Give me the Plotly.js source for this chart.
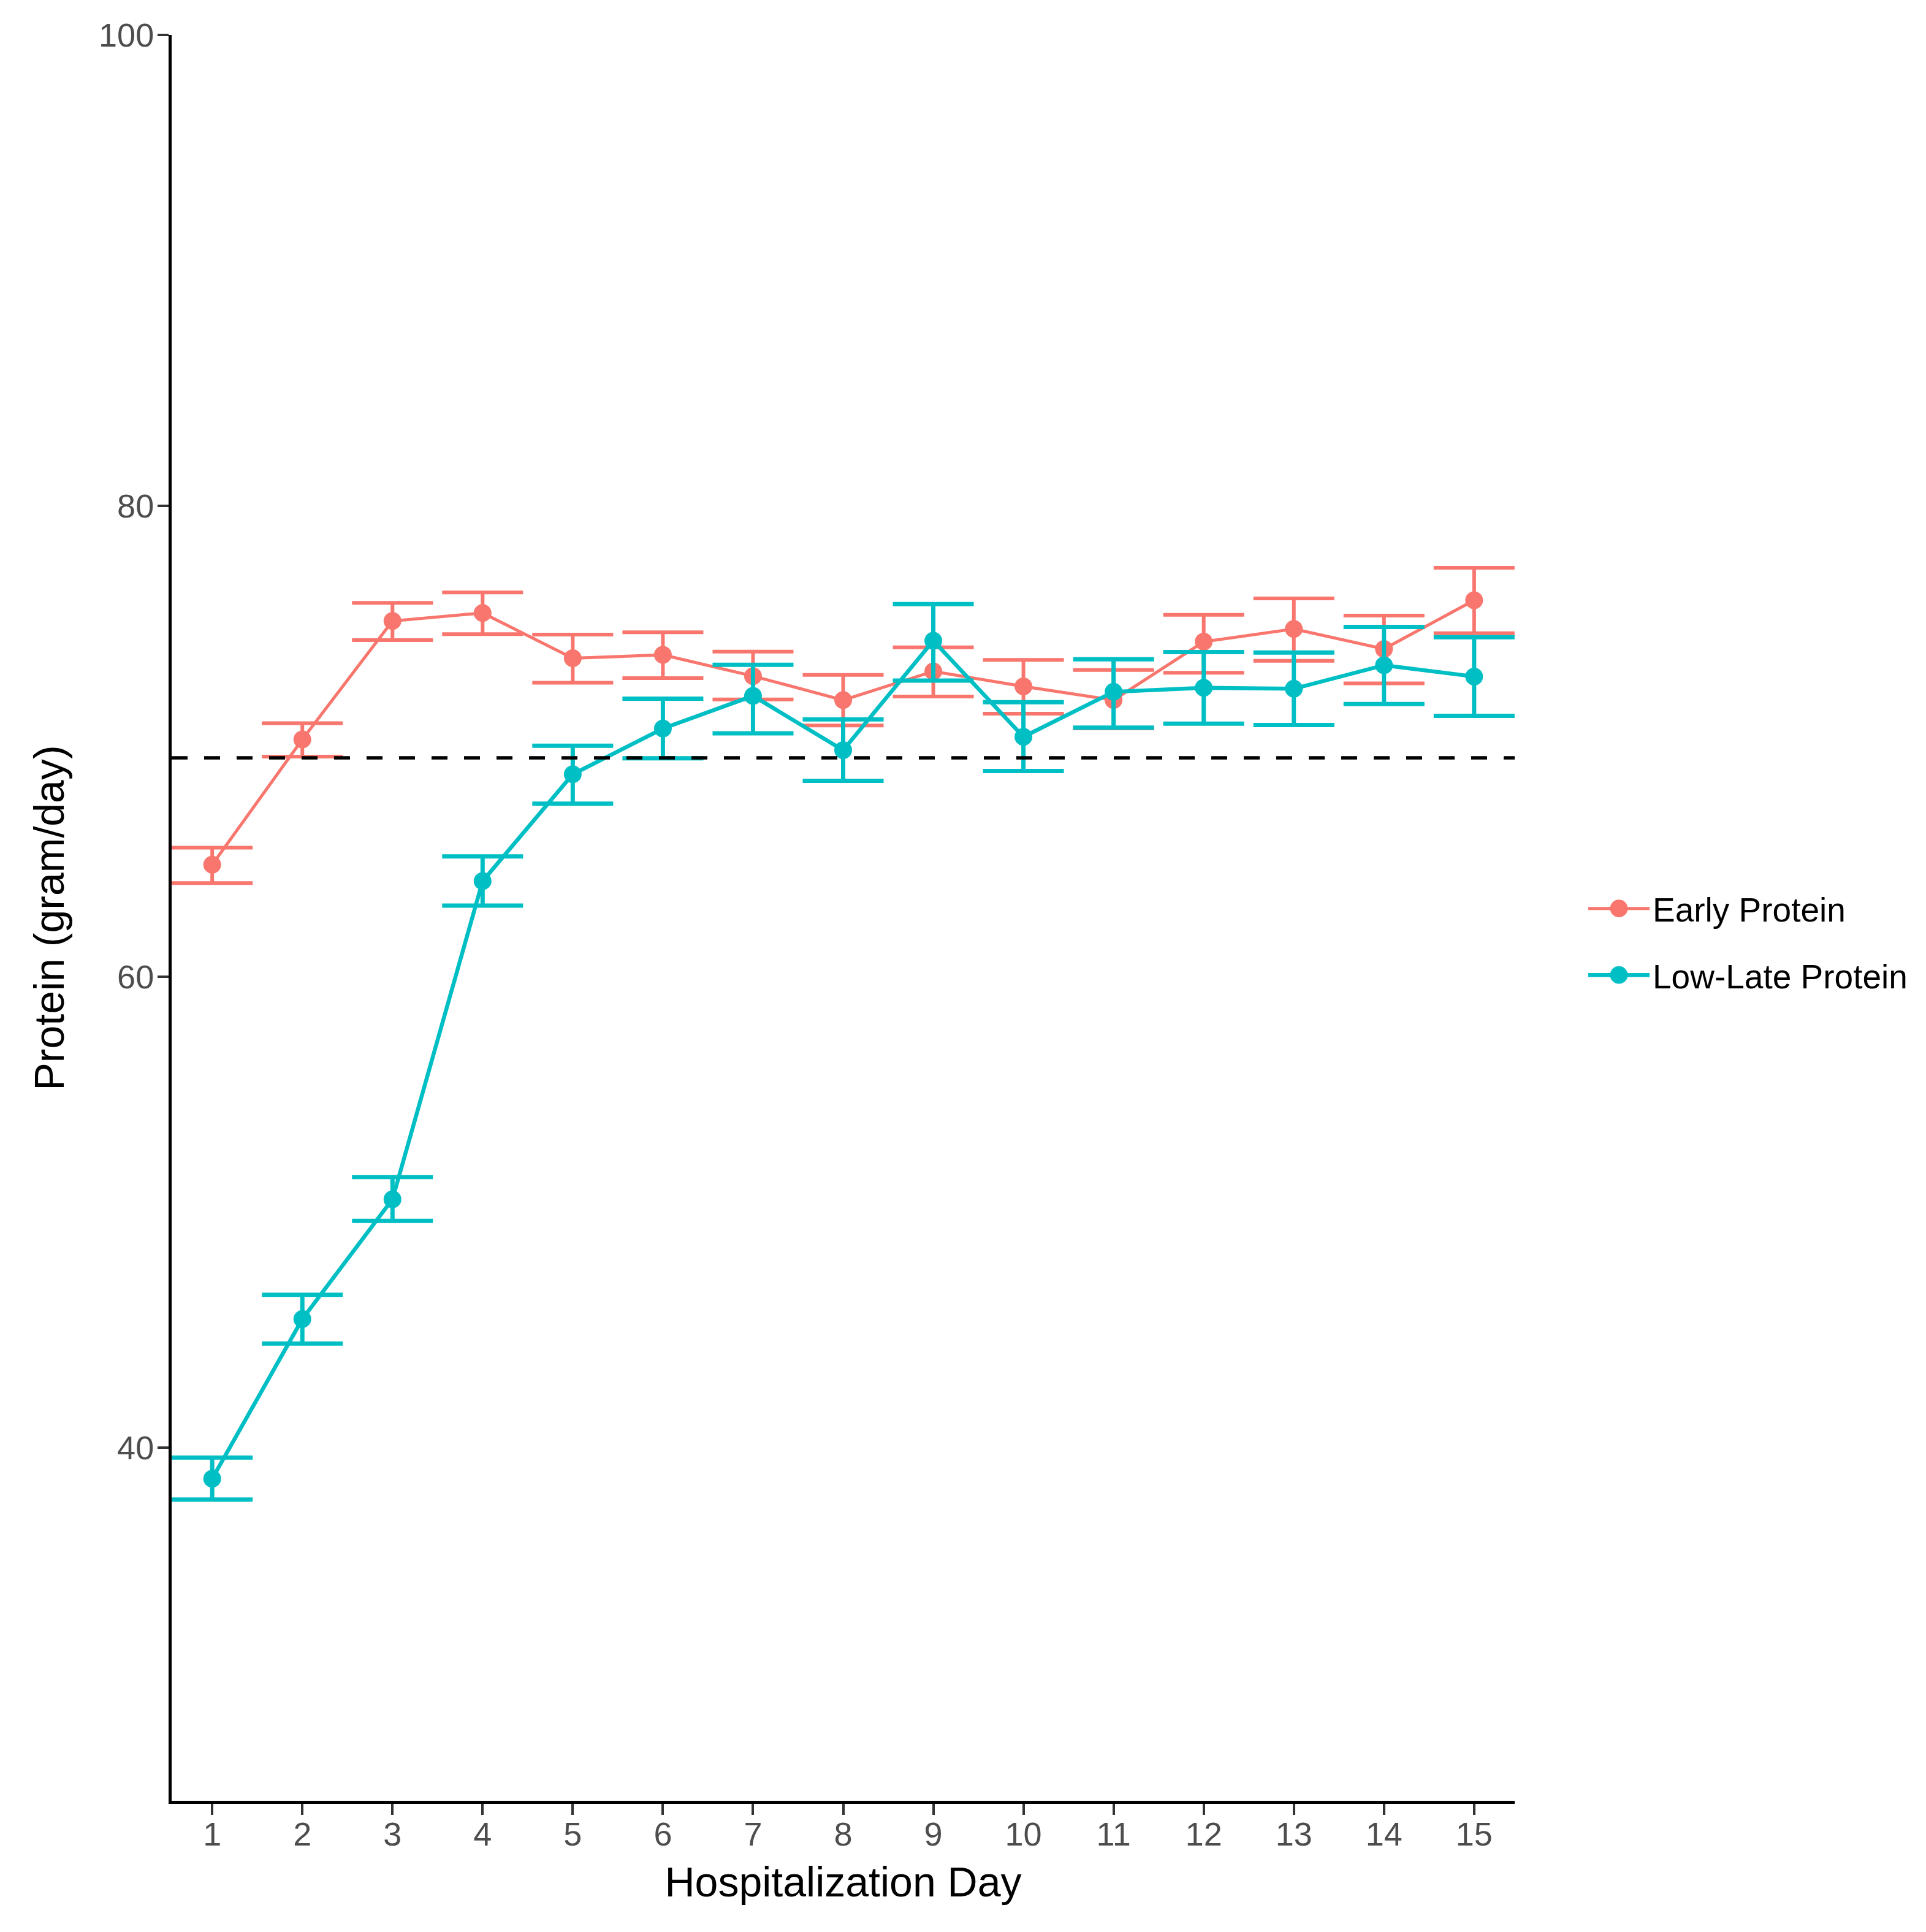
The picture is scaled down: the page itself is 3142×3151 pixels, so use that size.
<!DOCTYPE html>
<html>
<head>
<meta charset="utf-8">
<script src="https://cdn.plot.ly/plotly-3.0.1.min.js"></script>
<style>html,body{margin:0;padding:0;background:#fff;}#chart{width:3142px;height:3151px;}</style>
</head>
<body>
<div id="chart"></div>
<script>
// ---- data ----
var days = [1, 2, 3, 4, 5, 6, 7, 8, 9, 10, 11, 12, 13, 14, 15];
var dayLabels = ["1","2","3","4","5","6","7","8","9","10","11","12","13","14","15"];

var earlyMean  = [64.76, 70.08, 75.11, 75.45, 73.53, 73.67, 72.77, 71.75, 72.97, 72.33, 71.75, 74.23, 74.77, 73.92, 75.99];
var earlyUpper = [65.48, 70.77, 75.88, 76.32, 74.53, 74.63, 73.81, 72.82, 73.99, 73.46, 73.03, 75.37, 76.07, 75.34, 77.37];
var earlyLower = [63.98, 69.35, 74.30, 74.55, 72.49, 72.68, 71.78, 70.67, 71.90, 71.17, 70.55, 72.91, 73.42, 72.46, 74.59];

var lateMean  = [38.68, 45.46, 50.55, 64.06, 68.60, 70.54, 71.93, 69.62, 74.27, 70.19, 72.10, 72.27, 72.23, 73.23, 72.75];
var lateUpper = [39.58, 46.49, 51.49, 65.11, 69.81, 71.81, 73.25, 70.93, 75.83, 71.66, 73.48, 73.79, 73.77, 74.86, 74.42];
var lateLower = [37.79, 44.42, 49.63, 63.02, 67.35, 69.28, 70.34, 68.32, 72.58, 68.74, 70.58, 70.75, 70.69, 71.58, 71.08];

var seriesNames = ["Early Protein", "Low-Late Protein"];
var targetProtein = 69.3;
var yTicks = [40, 60, 80, 100];

// ---- styling ----
var RED = "#F8766D", CYAN = "#00BFC4";
var FONT = "Liberation Sans, Arial, Helvetica, sans-serif";

function diff(a, b) { return a.map(function (v, i) { return +(v - b[i]).toFixed(3); }); }

function makeTrace(name, mean, upper, lower, color, lw, ew, group) {
  return {
    type: "scatter",
    mode: "lines+markers",
    name: name,
    legendgroup: group,
    x: days,
    y: mean,
    line: { color: color, width: lw },
    marker: { color: color, size: 29 },
    error_y: {
      type: "data",
      symmetric: false,
      array: diff(upper, mean),
      arrayminus: diff(mean, lower),
      color: color,
      thickness: ew,
      width: 66
    },
    hoverinfo: "x+y+name"
  };
}

var traces = [
  makeTrace(seriesNames[0], earlyMean, earlyUpper, earlyLower, RED, 5, 6, "g1"),
  makeTrace(seriesNames[1], lateMean, lateUpper, lateLower, CYAN, 6.5, 7, "g2")
];

var axisCommon = {
  showline: true,
  linecolor: "#000000",
  linewidth: 5,
  ticks: "outside",
  ticklen: 18,
  tickwidth: 4,
  tickcolor: "#333333",
  showgrid: false,
  zeroline: false,
  automargin: false,
  tickfont: { family: FONT, size: 54, color: "#4D4D4D" }
};

var layout = {
  width: 3142,
  height: 3151,
  paper_bgcolor: "#ffffff",
  plot_bgcolor: "#ffffff",
  font: { family: FONT, color: "#000000" },
  margin: { l: 280, r: 671, t: 57, b: 214 },
  showlegend: true,
  legend: {
    x: 1.0525, y: 0.4865, xanchor: "left", yanchor: "middle",
    font: { family: FONT, size: 55, color: "#000000" },
    bgcolor: "rgba(0,0,0,0)",
    traceorder: "grouped",
    tracegroupgap: 34,
    itemwidth: 100
  },
  xaxis: Object.assign({}, axisCommon, {
    range: [0.55, 15.45],
    tickmode: "array",
    tickvals: days,
    ticktext: dayLabels,
    ticklabelstandoff: -15,
    title: { text: "Hospitalization Day", font: { family: FONT, size: 68, color: "#000000" }, standoff: 27 }
  }),
  yaxis: Object.assign({}, axisCommon, {
    range: [25, 100],
    tickmode: "array",
    tickvals: yTicks,
    ticktext: yTicks.map(String),
    ticklabelstandoff: -5,
    title: { text: "Protein (gram/day)", font: { family: FONT, size: 68, color: "#000000" }, standoff: 36 }
  }),
  shapes: [{
    type: "line",
    xref: "paper", x0: 0, x1: 1,
    yref: "y", y0: targetProtein, y1: targetProtein,
    line: { color: "#000000", width: 5.5, dash: "26px,27px" },
    layer: "above"
  }]
};

Plotly.newPlot("chart", traces, layout, { staticPlot: true, displayModeBar: false }).then(function (gd) {
  // enlarge legend point symbols (Plotly caps them at 16px) to match the plotted marker size
  var pts = gd.querySelectorAll(".legend .legendpoints path.scatterpts");
  pts.forEach(function (p) {
    var t = p.getAttribute("transform") || "";
    p.setAttribute("transform", t + " scale(1.8)");
  });
});
</script>
</body>
</html>
